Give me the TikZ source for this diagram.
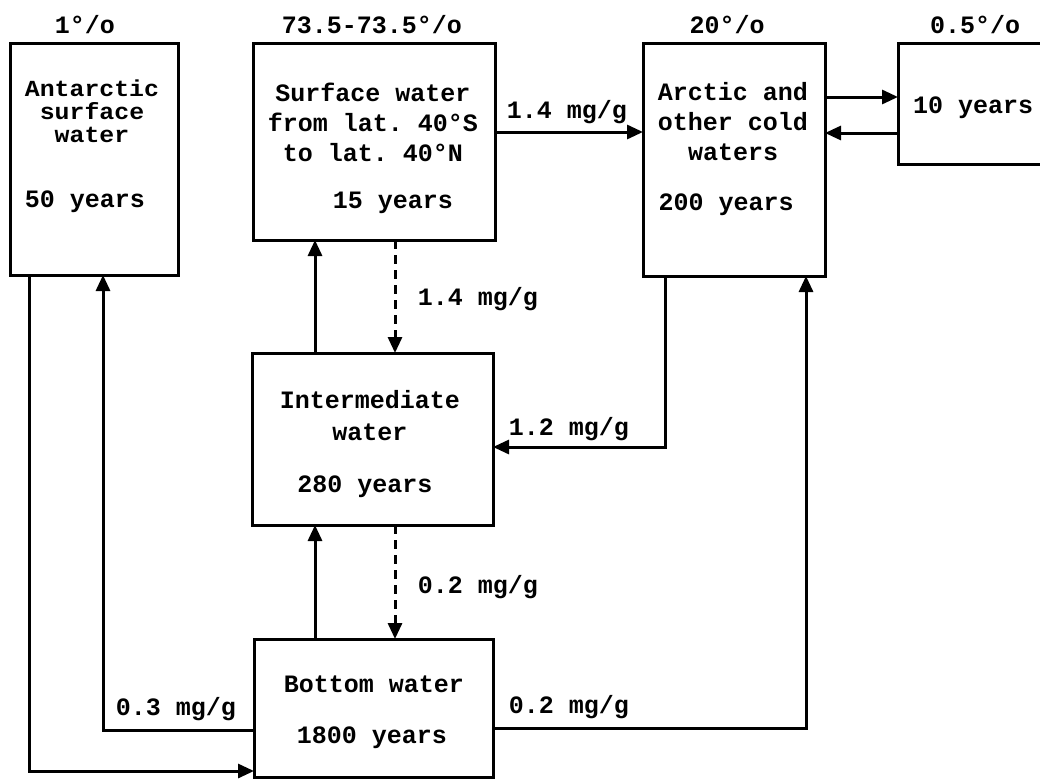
\documentclass[tikz,border=0pt]{standalone}
\usepackage{fontspec}
\setmonofont{Liberation Mono}
\newfontfamily\antfont[FakeStretch=1.08]{Liberation Mono}
\usetikzlibrary{arrows.meta}
\begin{document}
\begin{tikzpicture}[x=1pt,y=-1pt,
  box/.style={draw, line width=3pt, inner sep=0pt, outer sep=0pt},
  txt/.style={font=\ttfamily\bfseries\fontsize{25}{30}\selectfont, inner sep=0pt, align=center},
  flow/.style={line width=3pt, -{Triangle[length=16pt,width=14pt]}},
  dashpat/.style={dash pattern=on 9pt off 6pt}]
\useasboundingbox (0,0) rectangle (1040,779);
\clip (0,0) rectangle (1040,779);
% helper coordinates
\coordinate (h97) at (0,97);
\coordinate (h132) at (0,132);
\coordinate (h133) at (0,133);
\coordinate (h447) at (0,447);
\coordinate (h728) at (0,728);
\coordinate (h730) at (0,730);
\coordinate (h771) at (0,771);
\coordinate (v29) at (29,0);
\coordinate (v103) at (103,0);
\coordinate (v315) at (315,0);
\coordinate (v395) at (395,0);
\coordinate (v665) at (665,0);
\coordinate (v806) at (806,0);
% boxes
\node[box, minimum width=168pt, minimum height=232pt] (ant) at (94,159) {};
\node[box, minimum width=242pt, minimum height=197pt] (sur) at (374,141.5) {};
\node[box, minimum width=182pt, minimum height=233pt] (arc) at (734,159.5) {};
\node[box, minimum width=150pt, minimum height=121pt] (sml) at (973,103.5) {};
\node[box, minimum width=241pt, minimum height=172pt] (int) at (372.5,439) {};
\node[box, minimum width=239pt, minimum height=138pt] (bot) at (373.5,708) {};
% connectors
\draw[flow] (sur.east |- h132) -- (arc.west |- h132);
\draw[flow] (arc.east |- h97) -- (sml.west |- h97);
\draw[flow] (sml.west |- h133) -- (arc.east |- h133);
\draw[flow] (int.north -| v315) -- (sur.south -| v315);
\draw[flow, dashpat] (sur.south -| v395) -- (int.north -| v395);
\draw[flow] (arc.south -| v665) |- (int.east |- h447);
\draw[flow] (bot.north -| v315) -- (int.south -| v315);
\draw[flow, dashpat] (int.south -| v395) -- (bot.north -| v395);
\draw[flow] (bot.west |- h730) -| (ant.south -| v103);
\draw[flow] (ant.south -| v29) |- (bot.west |- h771);
\draw[flow] (bot.east |- h728) -| (arc.south -| v806);
% box texts (base = baseline of last line)
\node[txt, font=\antfont\bfseries\fontsize{23}{23}\selectfont, anchor=base] (antT) at (92,142) {Antarctic\\surface\\water};
\node[txt, anchor=base] (antY) at (85,207) {50 years};
\node[txt, anchor=base] (surT) at (373,161) {Surface water\\from lat. 40°S\\to lat. 40°N};
\node[txt, anchor=base] (surY) at (393,208) {15 years};
\node[txt, anchor=base] (arcT) at (733,160) {Arctic and\\other cold\\waters};
\node[txt, anchor=base] (arcY) at (726,210) {200 years};
\node[txt, anchor=base] (smlY) at (973,113) {10 years};
\node[txt, font=\ttfamily\bfseries\fontsize{25}{32}\selectfont, anchor=base] (intT) at (370,440) {Intermediate\\water};
\node[txt, anchor=base] (intY) at (365,492) {280 years};
\node[txt, anchor=base] (botT) at (374,692) {Bottom water};
\node[txt, anchor=base] (botY) at (372,743) {1800 years};
% percent labels
\node[txt, anchor=base] (p1) at (85,33) {1°/o};
\node[txt, anchor=base] (p2) at (372,33) {73.5-73.5°/o};
\node[txt, anchor=base] (p3) at (727,33) {20°/o};
\node[txt, anchor=base] (p4) at (975,33) {0.5°/o};
% flow labels
\node[txt, anchor=base] (f1) at (567,118) {1.4 mg/g};
\node[txt, anchor=base] (f2) at (478,305) {1.4 mg/g};
\node[txt, anchor=base] (f3) at (569,435) {1.2 mg/g};
\node[txt, anchor=base] (f4) at (478,593) {0.2 mg/g};
\node[txt, anchor=base] (f5) at (176,715) {0.3 mg/g};
\node[txt, anchor=base] (f6) at (569,713) {0.2 mg/g};
\end{tikzpicture}
\end{document}
